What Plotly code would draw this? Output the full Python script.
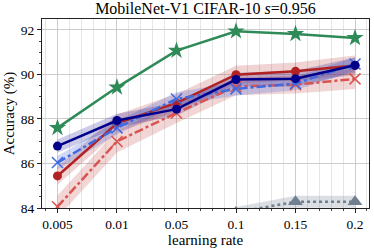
import plotly.graph_objects as go

lr_labels = ["0.005", "0.01", "0.05", "0.1", "0.15", "0.2"]

green_star = [87.6, 89.42, 91.07, 91.94, 91.82, 91.64]
navy_mean = [86.78, 87.93, 88.44, 89.77, 89.81, 90.41]
navy_err = [0.30, 0.30, 0.30, 0.30, 0.35, 0.35]
red_mean = [85.44, 87.80, 88.72, 89.99, 90.14, 90.40]
red_err = [0.40, 0.40, 0.40, 0.40, 0.40, 0.45]
lblue_mean = [86.04, 87.60, 88.90, 89.35, 89.59, 90.47]
lblue_err = [0.30, 0.30, 0.30, 0.30, 0.30, 0.30]
lred_mean = [84.06, 86.99, 88.27, 89.46, 89.54, 89.80]
lred_err = [0.50, 0.50, 0.45, 0.40, 0.40, 0.45]
gray_mean = [None, None, None, 83.80, 84.28, 84.28]
gray_err = [None, None, None, 0.25, 0.27, 0.27]

xs = list(range(len(lr_labels)))
fig = go.Figure()


def band(mean, err, color):
    px = [x for x, m in zip(xs, mean) if m is not None]
    up = [m + e for m, e in zip(mean, err) if m is not None]
    lo = [m - e for m, e in zip(mean, err) if m is not None]
    fig.add_trace(go.Scatter(x=px + px[::-1], y=up + lo[::-1], fill="toself",
                             fillcolor=color, line=dict(width=0), mode="lines",
                             hoverinfo="skip", showlegend=False))


band(lred_mean, lred_err, "rgba(205,92,92,0.25)")
band(red_mean, red_err, "rgba(178,34,34,0.2)")
band(lblue_mean, lblue_err, "rgba(65,105,225,0.25)")
band(navy_mean, navy_err, "rgba(0,0,139,0.2)")
band(gray_mean, gray_err, "rgba(112,128,144,0.25)")

fig.add_trace(go.Scatter(x=xs, y=gray_mean, mode="lines+markers",
                         line=dict(color="#708090", width=2.5, dash="dot"),
                         marker=dict(symbol="triangle-up", size=13, color="#708090"),
                         showlegend=False))
fig.add_trace(go.Scatter(x=xs, y=lred_mean, mode="lines+markers",
                         line=dict(color="#d9534f", width=2.5, dash="dashdot"),
                         marker=dict(symbol="x-thin", size=11, color="#d9534f",
                                     line=dict(width=1.5, color="#d9534f")),
                         showlegend=False))
fig.add_trace(go.Scatter(x=xs, y=red_mean, mode="lines+markers",
                         line=dict(color="#b22222", width=2.5),
                         marker=dict(symbol="circle", size=9, color="#b22222"),
                         showlegend=False))
fig.add_trace(go.Scatter(x=xs, y=lblue_mean, mode="lines+markers",
                         line=dict(color="#4169e1", width=2.5, dash="dashdot"),
                         marker=dict(symbol="x-thin", size=11, color="#4169e1",
                                     line=dict(width=1.5, color="#4169e1")),
                         showlegend=False))
fig.add_trace(go.Scatter(x=xs, y=navy_mean, mode="lines+markers",
                         line=dict(color="#00008b", width=2.5),
                         marker=dict(symbol="circle", size=9, color="#00008b"),
                         showlegend=False))
fig.add_trace(go.Scatter(x=xs, y=green_star, mode="lines+markers",
                         line=dict(color="#2e8b57", width=2.5),
                         marker=dict(symbol="star", size=13, color="#2e8b57"),
                         showlegend=False))

font = "Liberation Serif"
fig.update_layout(
    width=374, height=249,
    margin=dict(l=42, r=5, t=19, b=41),
    paper_bgcolor="white", plot_bgcolor="white",
    font=dict(family=font, size=13.5, color="black"),
    title=dict(text="MobileNet-V1 CIFAR-10 <i>s</i>=0.956", x=0.5, xanchor="center",
               xref="paper", y=0.99, yanchor="top", font=dict(size=16, family=font)),
    xaxis=dict(range=[-0.26, 5.235], tickvals=xs, ticktext=lr_labels,
               showgrid=True, gridcolor="#cccccc", gridwidth=1,
               showline=True, linecolor="#222", linewidth=1, mirror=True,
               ticks="outside", ticklen=4, tickcolor="#222",
               minor=dict(dtick=0.2, showgrid=True, gridcolor="#e6e6e6", gridwidth=1,
                          ticks="outside", ticklen=2, tickcolor="#444"),
               zeroline=False,
               title=dict(text="learning rate", font=dict(size=15), standoff=1)),
    yaxis=dict(range=[84, 92.49], tickvals=[84, 86, 88, 90, 92],
               showgrid=True, gridcolor="#cccccc", gridwidth=1,
               showline=True, linecolor="#222", linewidth=1, mirror=True,
               ticks="outside", ticklen=4, tickcolor="#222",
               minor=dict(dtick=0.5, showgrid=False, ticks="outside", ticklen=2,
                          tickcolor="#444"),
               zeroline=False,
               title=dict(text="Accuracy (%)", font=dict(size=15), standoff=2)),
)

fig.write_html("out.html", post_script="document.body.style.margin='0';",
               config={"displayModeBar": False})
